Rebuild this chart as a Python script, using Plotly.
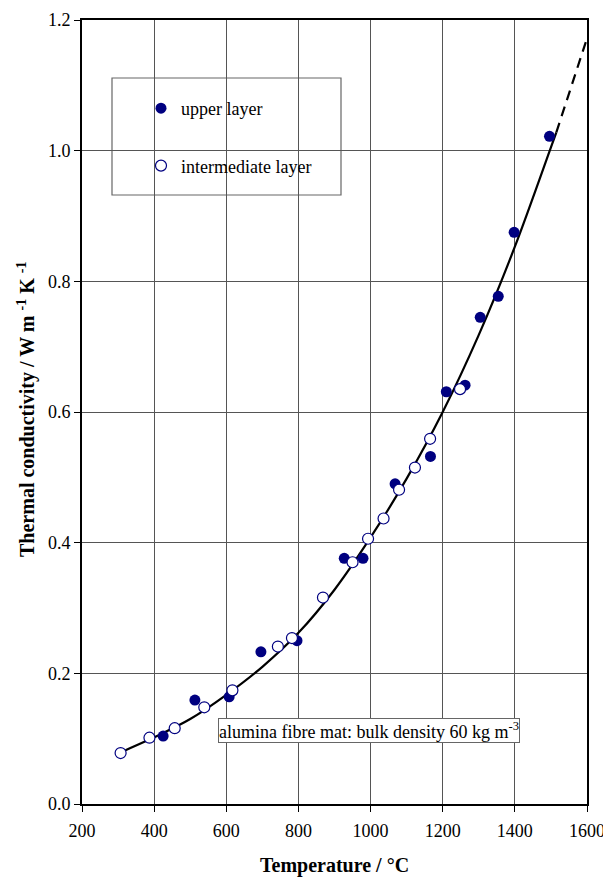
import plotly.graph_objects as go

# upper layer (filled)
upper_T = [425, 513, 608, 696, 796, 927, 979, 1068, 1166, 1210, 1262, 1304, 1354, 1398, 1496]
upper_k = [0.104, 0.159, 0.164, 0.233, 0.250, 0.376, 0.376, 0.490, 0.532, 0.631, 0.641, 0.745, 0.777, 0.875, 1.022]

# intermediate layer (open)
inter_T = [307, 387, 457, 539, 617, 743, 782, 868, 950, 993, 1036, 1079, 1123, 1165, 1248]
inter_k = [0.078, 0.1015, 0.116, 0.148, 0.174, 0.241, 0.254, 0.316, 0.370, 0.406, 0.437, 0.481, 0.515, 0.559, 0.635]

# fitted curve
fit_T = [307, 400, 500, 600, 700, 800, 900, 1000, 1100, 1200, 1300, 1400, 1500, 1515]
fit_k = [0.079, 0.102, 0.130, 0.167, 0.210, 0.262, 0.328, 0.408, 0.498, 0.600, 0.718, 0.853, 1.005, 1.028]
ext_T = [1515, 1600]
ext_k = [1.028, 1.172]

x_ticks = [200, 400, 600, 800, 1000, 1200, 1400, 1600]
y_ticks = [0.0, 0.2, 0.4, 0.6, 0.8, 1.0, 1.2]

FONT = "Liberation Serif, Times New Roman, serif"
NAVY = "#000080"

# plot area in page pixels: left 82, right 587, top 20, bottom 804 (page body adds 8px offset)
fig = go.Figure()
fig.add_trace(go.Scatter(x=fit_T, y=fit_k, mode="lines", line=dict(color="black", width=2.2, shape="spline"),
                         showlegend=False, hoverinfo="skip"))
fig.add_trace(go.Scatter(x=ext_T, y=ext_k, mode="lines", line=dict(color="black", width=2.2, dash="10px,7px"),
                         showlegend=False, hoverinfo="skip"))
fig.add_trace(go.Scatter(x=upper_T, y=upper_k, mode="markers", name="upper layer", legendgroup="a",
                         marker=dict(symbol="circle", size=11, color=NAVY, line=dict(width=0))))
fig.add_trace(go.Scatter(x=inter_T, y=inter_k, mode="markers", name="intermediate layer", legendgroup="b",
                         marker=dict(symbol="circle", size=11, color="white", line=dict(width=1.2, color=NAVY))))

# legend box
fig.add_shape(type="rect", xref="paper", yref="paper",
              x0=(112 - 82) / 505, x1=(341 - 82) / 505, y0=(804 - 195) / 784, y1=(804 - 78) / 784,
              line=dict(color="#666666", width=1.2), fillcolor="white", layer="between")

fig.add_annotation(x=996, y=0.113, xref="x", yref="y",
                   text="alumina fibre mat: bulk density 60 kg m<sup>-3</sup>",
                   showarrow=False, font=dict(family=FONT, size=18, color="black"),
                   bgcolor="white", bordercolor="#666666", borderwidth=1, borderpad=0)

fig.add_annotation(x=(26 - 82) / 505, y=(804 - 410) / 784, xref="paper", yref="paper", textangle=-90,
                   xanchor="center", yanchor="middle",
                   text="<b>Thermal conductivity / W m <sup>-1</sup> K <sup>-1</sup></b>",
                   showarrow=False, font=dict(family=FONT, size=20, color="black"))
fig.add_annotation(x=0.5, y=(804 - 865) / 784, xref="paper", yref="paper",
                   xanchor="center", yanchor="middle",
                   text="<b>Temperature / °C</b>",
                   showarrow=False, font=dict(family=FONT, size=20, color="black"))

fig.update_layout(
    width=611, height=879,
    margin=dict(l=74, r=32, t=12, b=83),
    paper_bgcolor="white", plot_bgcolor="white",
    font=dict(family=FONT, size=18, color="black"),
    legend=dict(x=(141 - 82) / 505, y=(804 - 90) / 784, xanchor="left", yanchor="top",
                bgcolor="rgba(0,0,0,0)", borderwidth=0, traceorder="grouped", tracegroupgap=31,
                font=dict(family=FONT, size=18, color="black"), itemwidth=30),
    xaxis=dict(range=[200, 1600], tickvals=x_ticks, ticktext=[str(v) for v in x_ticks],
               showgrid=True, gridcolor="#555555", gridwidth=1, automargin=False,
               showline=True, linecolor="black", linewidth=1.6, mirror=True,
               ticks="outside", ticklen=6, tickcolor="black", zeroline=False,
               ticklabelstandoff=4,
               tickfont=dict(family=FONT, size=18)),
    yaxis=dict(range=[0, 1.2], tickvals=y_ticks, ticktext=[f"{v:.1f}" for v in y_ticks],
               showgrid=True, gridcolor="#555555", gridwidth=1, automargin=False,
               showline=True, linecolor="black", linewidth=1.6, mirror=True,
               ticks="outside", ticklen=6, tickcolor="black", zeroline=False,
               tickfont=dict(family=FONT, size=18)),
)

fig.write_html("out.html")
